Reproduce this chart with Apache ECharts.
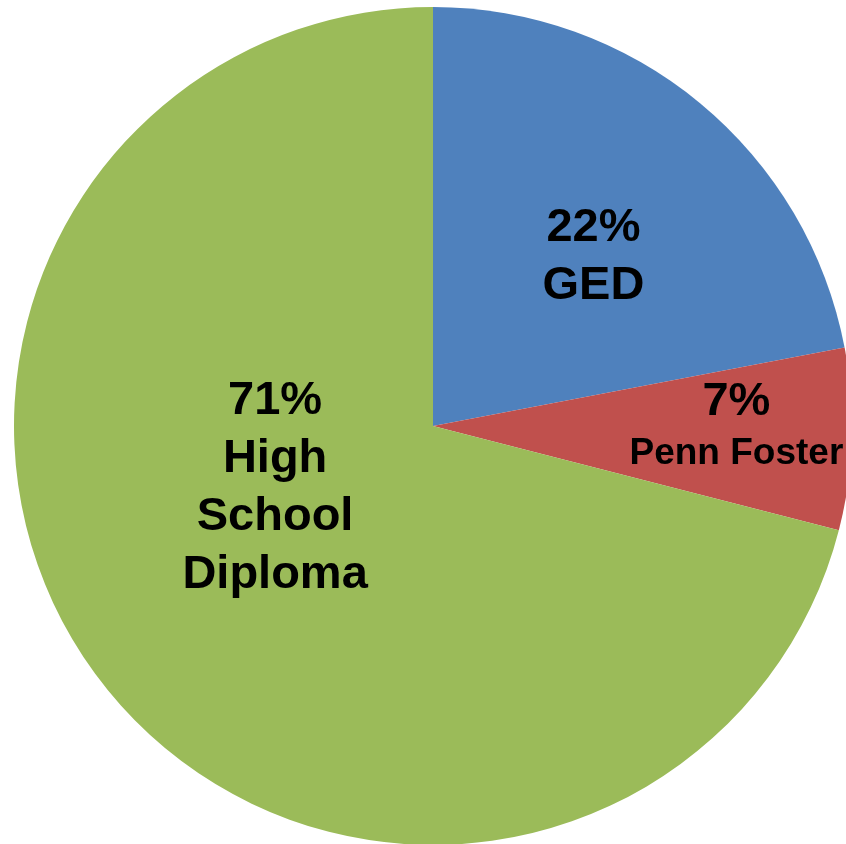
<!DOCTYPE html>
<html>
<head>
<meta charset="utf-8">
<script src="https://cdn.jsdelivr.net/npm/echarts@6/dist/echarts.min.js"></script>
<style>
html,body{margin:0;padding:0;background:#fff;}
#main{width:846px;height:844px;}
</style>
</head>
<body>
<div id="main"></div>
<script>
const categories = ['GED', 'Penn Foster', 'High School Diploma'];
const values = [22, 7, 71];
const pctLabels = ['22%', '7%', '71%'];
const nameLabels = ['GED', 'Penn Foster', 'High\nSchool\nDiploma'];

const colors = ['#4F81BD', '#C0504D', '#9BBB59'];
const offsets = [[25, -5], [91, -8], [10, -68]];
const nameStyle = ['big', 'small', 'big'];

const FONT = '"Liberation Sans", Arial, sans-serif';

const chart = echarts.init(document.getElementById('main'), null, {renderer: 'canvas'});
chart.setOption({
  animation: false,
  backgroundColor: '#ffffff',
  series: [{
    type: 'pie',
    center: [433, 426],
    radius: [0, 419],
    startAngle: 90,
    clockwise: true,
    avoidLabelOverlap: false,
    labelLine: {show: false},
    emphasis: {disabled: true},
    itemStyle: {borderWidth: 0},
    data: categories.map((c, i) => ({
      name: c,
      value: values[i],
      itemStyle: {color: colors[i]},
      label: {
        show: true,
        position: 'inside',
        offset: offsets[i],
        formatter: () => '{p|' + pctLabels[i] + '}\n' +
          nameLabels[i].split('\n').map(s => '{' + nameStyle[i] + '|' + s + '}').join('\n'),
        color: '#000',
        textBorderWidth: 0,
        align: 'center',
        rich: {
          p: {fontFamily: FONT, fontWeight: 'bold', fontSize: 47, lineHeight: 58, color: '#000', align: 'center'},
          big: {fontFamily: FONT, fontWeight: 'bold', fontSize: 47, lineHeight: 58, color: '#000', align: 'center'},
          small: {fontFamily: FONT, fontWeight: 'bold', fontSize: 37, lineHeight: 46, color: '#000', align: 'center'}
        }
      }
    }))
  }]
});
</script>
</body>
</html>
